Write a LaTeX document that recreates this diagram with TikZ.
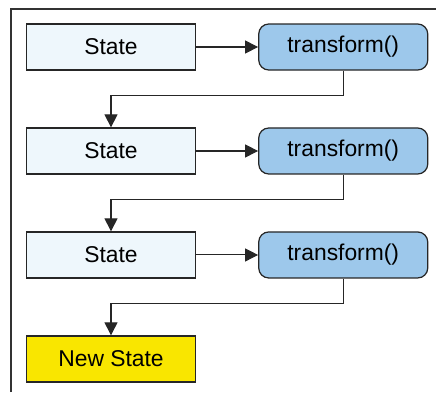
\documentclass[tikz,border=0pt]{standalone}
\usepackage{fontspec}
\setmainfont{Liberation Sans}
\usetikzlibrary{arrows.meta, positioning}
\definecolor{statefill}{HTML}{EEF7FC}
\definecolor{funcfill}{HTML}{9DC8EB}
\definecolor{newfill}{HTML}{F9E600}

\begin{document}
\begin{tikzpicture}[
    node distance=1.135cm and 1.24cm,
    box/.style={draw=black!85, line width=0.7pt, rectangle, fill=statefill, minimum width=3.38cm, minimum height=0.92cm, font=\fontsize{13}{15}\selectfont},
    func/.style={box, rounded corners=0.2cm, fill=funcfill},
    arrow/.style={-{Triangle[length=0.26cm,width=0.26cm]}, line width=0.6pt, black!85}
]
\useasboundingbox (0,0) rectangle (8.72,-7.84);
% frame
\draw[line width=0.7pt, black!80] (0.22,-7.84) -- (0.22,-0.18) -- (8.72,-0.18);

% states and transforms
\node[box] (s1) at (2.22,-0.94) {State};
\node[func, right=of s1] (t1) {transform()};
\node[box, below=of s1] (s2) {State};
\node[func, right=of s2] (t2) {transform()};
\node[box, below=of s2] (s3) {State};
\node[func, right=of s3] (t3) {transform()};
\node[box, below=of s3, fill=newfill] (s4) {New State};

\draw[arrow] (s1) -- (t1);
\draw[arrow] (t1.south) -- ++(0,-0.5) -| (s2.north);
\draw[arrow] (s2) -- (t2);
\draw[arrow] (t2.south) -- ++(0,-0.5) -| (s3.north);
\draw[arrow] (s3) -- (t3);
\draw[arrow] (t3.south) -- ++(0,-0.5) -| (s4.north);
\end{tikzpicture}
\end{document}
